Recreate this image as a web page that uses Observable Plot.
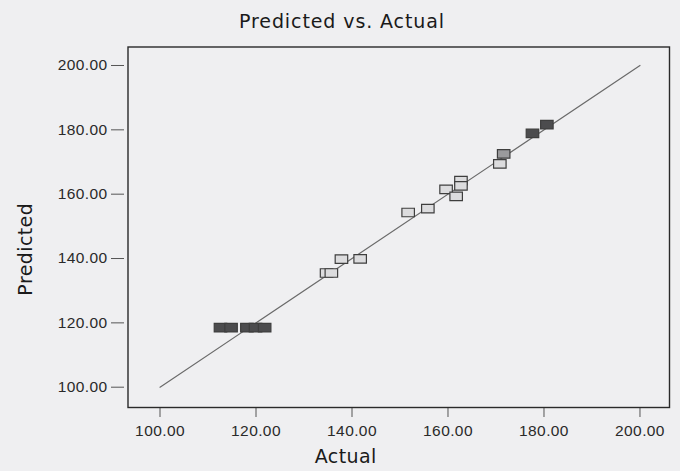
<!DOCTYPE html>
<html>
<head>
<meta charset="utf-8">
<script src="https://cdn.jsdelivr.net/npm/d3@7"></script>
<script src="https://cdn.jsdelivr.net/npm/@observablehq/plot@0.6"></script>
<style>
  html, body { margin: 0; padding: 0; background: #efeff1; }
  #title {
    width: 680px; height: 40px; box-sizing: border-box;
    padding-top: 10px; padding-left: 4px; line-height: 22px;
    text-align: center; font-family: "DejaVu Sans", sans-serif; font-size: 19px; letter-spacing: 0.9px; color: #1a1a1a;
  }
  #chart svg { display: block; }
</style>
</head>
<body>
<div id="title">Predicted vs. Actual</div>
<div id="chart"></div>
<script>
const actual    = [112.6, 114.8, 118.1, 119.9, 121.8, 134.7, 135.7, 137.8, 141.7, 151.7, 155.8, 159.6, 161.7, 162.7, 162.7, 170.8, 171.6, 177.6, 180.6];
const predicted = [118.5, 118.5, 118.5, 118.5, 118.5, 135.5, 135.5, 139.8, 139.9, 154.3, 155.5, 161.5, 159.3, 164.2, 162.6, 169.4, 172.5, 178.9, 181.6];
const group     = ["dark", "dark", "dark", "dark", "dark", "light", "light", "light", "light", "light", "light", "light", "light", "light", "light", "light", "medium", "dark", "dark"];

// Reference line y = x
const refX = [100, 200];
const refY = [100, 200];

// Tick labels
const xTicks = [100, 120, 140, 160, 180, 200];
const yTicks = [100, 120, 140, 160, 180, 200];

const xLabel = "Actual";
const yLabel = "Predicted";

const points = actual.map((a, i) => ({actual: a, predicted: predicted[i], group: group[i]}));
const refLine = refX.map((v, i) => ({x: v, y: refY[i]}));

const rectSymbol = {
  draw(context, size) {
    const w = 12.5, h = 8.5;
    context.rect(-w / 2, -h / 2, w, h);
    context.closePath();
  }
};

const fmt = d => d.toFixed(2);

const chart = Plot.plot({
  width: 680,
  height: 431,
  marginLeft: 127.5,
  marginRight: 11,
  marginTop: 6.5,
  marginBottom: 64,
  style: {background: "transparent", fontFamily: "'Liberation Sans', Arial, sans-serif", fontSize: "15.5px", letterSpacing: "0.4px", color: "#2a2a2a"},
  x: {domain: [93.33, 206.15]},
  y: {domain: [93.69, 205.75]},
  color: {domain: ["light", "medium", "dark"], range: ["#dcdcde", "#9a9a9c", "#4c4c4e"]},
  marks: [
    Plot.axisX({ticks: xTicks, tickFormat: fmt, tickSize: 10, tickPadding: 7, label: null, stroke: "#555"}),
    Plot.axisY({ticks: yTicks, tickFormat: fmt, tickSize: 13, tickPadding: 4, dx: -3.5, label: null, stroke: "#555"}),
    Plot.frame({stroke: "#2a2a2a", strokeWidth: 1.4}),
    Plot.line(refLine, {x: "x", y: "y", stroke: "#6a6a6a", strokeWidth: 1.2}),
    Plot.dot(points, {x: "actual", y: "predicted", symbol: rectSymbol, fill: "group", stroke: "#3e3e3e", strokeWidth: 1.2}),
    Plot.text([xLabel], {text: d => d, frameAnchor: "bottom", textAnchor: "middle", dx: -53, dy: 49, lineAnchor: "middle", fontFamily: "DejaVu Sans", fontSize: 19, letterSpacing: "1.2px", fill: "#1a1a1a"}),
    Plot.text([yLabel], {text: d => d, frameAnchor: "left", textAnchor: "middle", rotate: -90, dx: -102, dy: 22, lineAnchor: "middle", fontFamily: "DejaVu Sans", fontSize: 19, letterSpacing: "0px", fill: "#1a1a1a"})
  ]
});
document.getElementById("chart").appendChild(chart);
</script>
</body>
</html>
